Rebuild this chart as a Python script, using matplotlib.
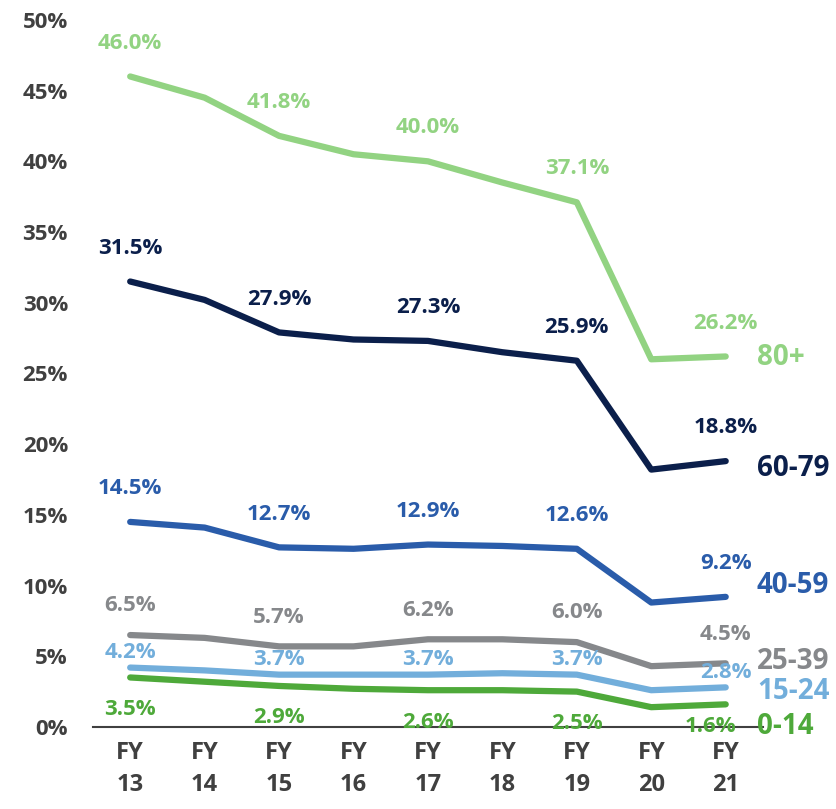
import matplotlib.pyplot as plt

years = ["FY\n13", "FY\n14", "FY\n15", "FY\n16", "FY\n17", "FY\n18", "FY\n19", "FY\n20", "FY\n21"]
groups = ["80+", "60-79", "40-59", "25-39", "15-24", "0-14"]

age_80 = [46.0, 44.5, 41.8, 40.5, 40.0, 38.5, 37.1, 26.0, 26.2]
age_60 = [31.5, 30.2, 27.9, 27.4, 27.3, 26.5, 25.9, 18.2, 18.8]
age_40 = [14.5, 14.1, 12.7, 12.6, 12.9, 12.8, 12.6, 8.8, 9.2]
age_25 = [6.5, 6.3, 5.7, 5.7, 6.2, 6.2, 6.0, 4.3, 4.5]
age_15 = [4.2, 4.0, 3.7, 3.7, 3.7, 3.8, 3.7, 2.6, 2.8]
age_0 = [3.5, 3.2, 2.9, 2.7, 2.6, 2.6, 2.5, 1.4, 1.6]

colors = ["#92d382", "#0b1f4b", "#2a5caa", "#86888b", "#72aedb", "#4ea93a"]
# vertical offset of data labels in points (negative = below line)
offs = [24, 24, 24, 21, 11, -23]
# end label y position in data units
end_y = [26.1, 18.3, 10.0, 4.6, 2.5, 0.0]

plt.rcParams['font.family'] = ['Open Sans', 'DejaVu Sans']
plt.rcParams['font.weight'] = 'bold'

fig = plt.figure(figsize=(8.36, 8.09), dpi=100)
ax = fig.add_axes([0.1112, 0.1014, 0.8014, 0.874])

x = list(range(len(years)))
series = [age_80, age_60, age_40, age_25, age_15, age_0]
for vals, col, off, name, ey in zip(series, colors, offs, groups, end_y):
    ax.plot(x, vals, color=col, lw=4.5, solid_capstyle='round', solid_joinstyle='round')
    for i in range(0, len(vals), 2):
        dx, dy = 0, off
        if name == "0-14" and i == 8:
            dx, dy = -11, -16
        ax.annotate(f"{vals[i]:.1f}%", (x[i], vals[i]), xytext=(dx, dy),
                    textcoords='offset points', ha='center', va='center',
                    color=col, fontsize=16, fontweight='bold')
    ax.text(8.42, ey, name, color=col, fontsize=20, fontweight='bold',
            ha='left', va='center', clip_on=False)

ax.set_xlim(-0.5, 8.5)
ax.set_ylim(0, 50)
ax.set_yticks(range(0, 51, 5))
ax.set_yticklabels([f"{v}%" for v in range(0, 51, 5)])
ax.set_xticks(x)
ax.set_xticklabels(years, linespacing=1.45)
ax.tick_params(axis='y', length=0, pad=18, labelsize=16, labelcolor='#404040')
ax.tick_params(axis='x', length=0, pad=10, labelsize=17, labelcolor='#404040')
for s in ['top', 'right', 'left']:
    ax.spines[s].set_visible(False)
ax.spines['bottom'].set_color('#404040')
ax.spines['bottom'].set_linewidth(1.5)
ax.spines['bottom'].set_zorder(0)

fig.savefig("out.png", dpi=100)
